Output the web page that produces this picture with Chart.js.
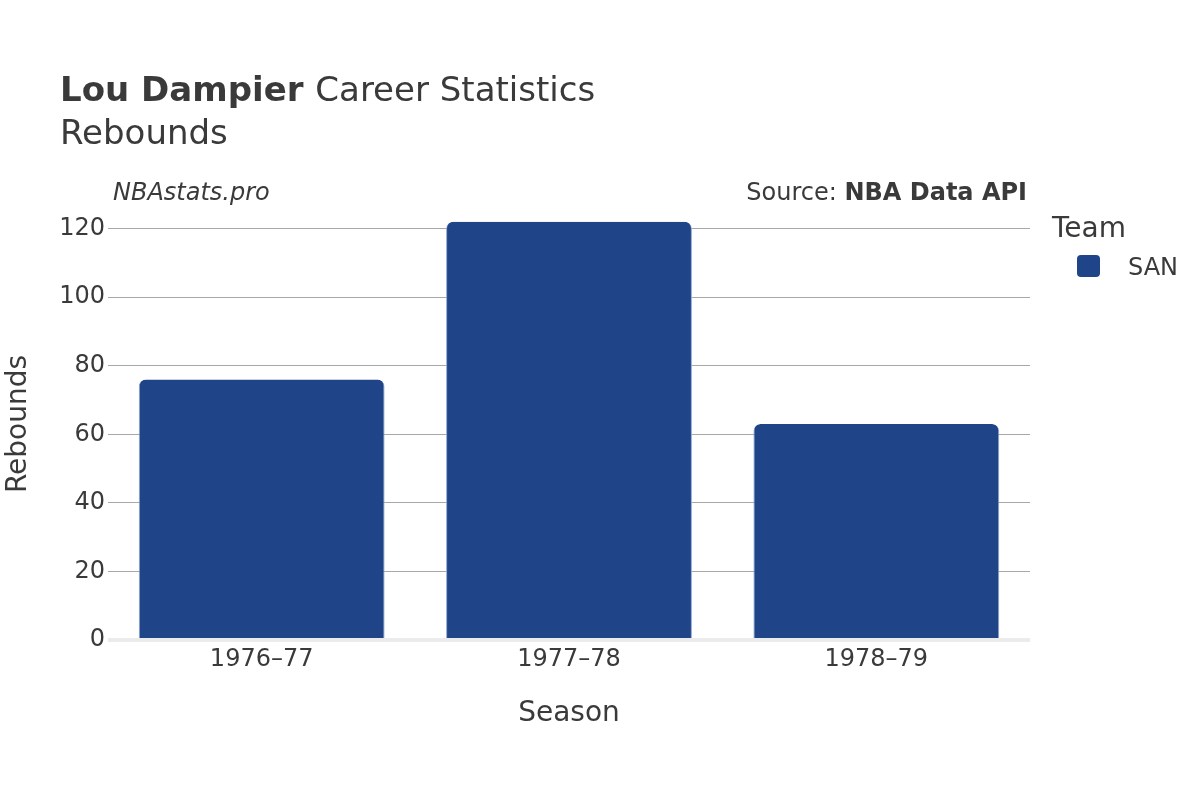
<!DOCTYPE html>
<html>
<head>
<meta charset="utf-8">
<script src="https://cdn.jsdelivr.net/npm/chart.js@4/dist/chart.umd.min.js"></script>
<style>
  html, body { margin: 0; padding: 0; background: #fff; }
  #wrap { width: 1200px; height: 800px; position: relative; }
</style>
</head>
<body>
<div id="wrap"><canvas id="chart_one" width="1200" height="800"></canvas></div>
<script>
var seasons = ["1976\u201377", "1977\u201378", "1978\u201379"];
var rebounds = [76, 122, 63];
var yTicks = [0, 20, 40, 60, 80, 100, 120];
var teamName = "SAN";

var barColor = '#1f4488';
var textColor = '#3a3a3a';
var fontName = "'DejaVu Sans', sans-serif";

// titles, watermark, source and legend drawn on top of the canvas
var extraText = {
  id: 'extraText',
  afterDraw: function(chart) {
    var ctx = chart.ctx;
    ctx.save();
    ctx.fillStyle = textColor;
    ctx.textBaseline = 'alphabetic';
    ctx.textAlign = 'left';

    ctx.font = "bold 34px " + fontName;
    ctx.fillText("Lou Dampier", 60, 101);
    var w = ctx.measureText("Lou Dampier ").width;
    ctx.font = "34px " + fontName;
    ctx.fillText("Career Statistics", 60 + w, 101);
    ctx.fillText("Rebounds", 60, 144);

    ctx.font = "italic 24px " + fontName;
    ctx.fillText("NBAstats.pro", 113, 200);

    ctx.textAlign = 'right';
    ctx.font = "bold 24px " + fontName;
    ctx.fillText("NBA Data API", 1027, 200);
    var bw = ctx.measureText("NBA Data API").width;
    ctx.font = "24px " + fontName;
    ctx.fillText("Source: ", 1027 - bw, 200);

    ctx.textAlign = 'left';
    ctx.font = "28px " + fontName;
    ctx.fillText("Team", 1052, 237);
    ctx.fillStyle = barColor;
    ctx.beginPath();
    ctx.roundRect(1077, 255, 23, 22, 4);
    ctx.fill();
    ctx.fillStyle = textColor;
    ctx.font = "24px " + fontName;
    ctx.fillText(teamName, 1128, 275);
    ctx.restore();
  }
};

var activityCanvas_1 = document.getElementById("chart_one");

var dataFirst = {
  label: teamName,
  data: rebounds,
  backgroundColor: barColor,
  borderColor: '#8fa6d0',
  borderWidth: { top: 0, left: 1, right: 1, bottom: 0 },
  borderRadius: { topLeft: 7, topRight: 7 },
  borderSkipped: 'bottom',
  categoryPercentage: 1,
  barPercentage: 0.8
};

var barChart = new Chart(activityCanvas_1, {
  type: 'bar',
  data: { labels: seasons, datasets: [dataFirst] },
  options: {
    responsive: false,
    animation: false,
    layout: { padding: { top: 208, right: 170, left: 0, bottom: 0 } },
    plugins: {
      legend: { display: false },
      tooltip: { enabled: false }
    },
    scales: {
      x: {
        grid: { display: false },
        border: { display: false },
        ticks: { color: textColor, font: { family: fontName, size: 24 }, padding: -3 },
        title: { display: true, text: 'Season', color: textColor, font: { family: fontName, size: 28 }, padding: { top: 10, bottom: 69 } },
        afterFit: function(scale) { scale.height = 160; }
      },
      y: {
        min: 0,
        max: 126,
        afterBuildTicks: function(scale) {
          scale.ticks = yTicks.map(function(v) { return { value: v }; });
        },
        grid: {
          drawTicks: false,
          color: function(c) { return c.tick && c.tick.value === 0 ? '#ebebeb' : '#a8a8a8'; },
          lineWidth: function(c) { return c.tick && c.tick.value === 0 ? 4 : 1; }
        },
        border: { display: false },
        ticks: { color: textColor, font: { family: fontName, size: 24 }, padding: 3 },
        title: { display: true, text: 'Rebounds', color: textColor, font: { family: fontName, size: 28 }, padding: { top: 2, bottom: 0 } },
        afterFit: function(scale) { scale.width = 108; }
      }
    }
  },
  plugins: [extraText]
});
</script>
</body>
</html>
